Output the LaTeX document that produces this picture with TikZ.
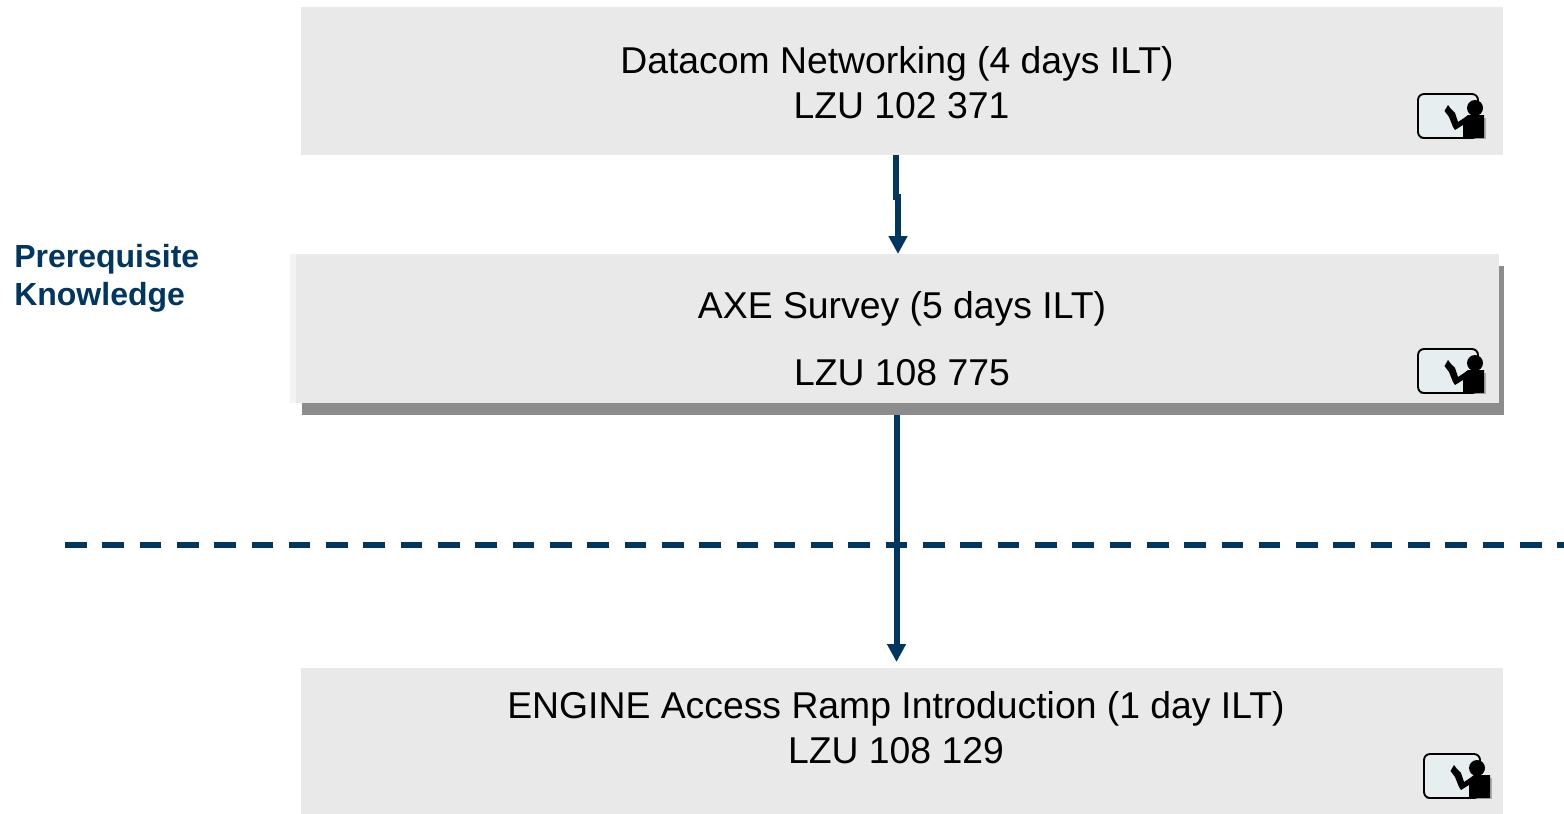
\documentclass[tikz,border=0pt]{standalone}
\usepackage{fontspec}
\setmainfont{Liberation Sans}
\usetikzlibrary{arrows.meta}
\definecolor{navy}{HTML}{003660}
\definecolor{boxgrey}{HTML}{E9E9E9}
\definecolor{boxlight}{HTML}{F3F3F3}
\definecolor{shadowgrey}{HTML}{8C8C8C}
\definecolor{screen}{HTML}{E6EEF0}
\tikzset{
  x=0.75pt,y=-0.75pt,
  box/.style={fill=boxgrey,draw=none,inner sep=0pt,outer sep=0pt},
  shadowbox/.style={fill=shadowgrey,draw=none,inner sep=0pt,outer sep=0pt},
  lightbox/.style={fill=boxlight,draw=none,inner sep=0pt,outer sep=0pt},
  course/.style={align=center,inner sep=0pt,text=black,font=\fontsize{28}{33.75}\selectfont},
  side/.style={align=left,inner sep=0pt,text=navy,font=\fontsize{24}{28.5}\selectfont\bfseries},
  link/.style={draw=navy,line width=4.5pt},
  linkarrow/.style={link,-{Triangle[length=13.5pt,width=13.5pt]}},
  divider/.style={draw=navy,line width=4.2pt,dash pattern=on 16.2pt off 11.78pt},
  pics/teacher/.style={code={
    \fill[shadowgrey!70] (2,43) rectangle (67.5,45);
    \fill[shadowgrey!70] (66,24) rectangle (67.5,45);
    \draw[black,line width=1.4pt,fill=screen,rounded corners=4.5pt] (0,0) rectangle (#1,44);
    \fill[black] ({#1-3},14) circle (8);
    \fill[black] (30,11) -- (33,15) -- (37,19) -- (40,28) -- (46,24) -- (50,21) -- (66,21)
      -- (66,44) -- (45,44) -- (45,31) -- (37,36) -- (35,33) -- (31,23) -- (26.5,17) -- cycle;
  }}
}
\begin{document}
\begin{tikzpicture}
\useasboundingbox (0,0) rectangle (1564,814);
\node[box,minimum width=901.5pt,minimum height=111pt] (b1) at (902,81) {};
\node[shadowbox,minimum width=901.5pt,minimum height=111.75pt] (b2s) at (903,340.5) {};
\node[lightbox,minimum width=906.75pt,minimum height=111.75pt] (b2l) at (894.5,328.5) {};
\node[box,minimum width=902.25pt,minimum height=111.75pt] (b2) at (897.5,328.5) {};
\node[box,minimum width=901.5pt,minimum height=109.5pt] (b3) at (902,740.5) {};
\node[course] (t1) at (897,83) {Datacom Networking (4 days ILT)\\\hspace*{6.75pt}LZU 102 371};
\node[course] (t2) at (902,339) {AXE Survey (5 days ILT)\\[16.5pt]LZU 108 775};
\node[course] (t3) at (896,728) {ENGINE Access Ramp Introduction (1 day ILT)\\LZU 108 129};
\node[side,anchor=west] (s) at (14,278) {Prerequisite\\Knowledge};
\coordinate (a1s) at (896,155);
\coordinate (a1m) at (896,200);
\coordinate (a1n) at (898,194);
\coordinate (a1e) at (898,254);
\coordinate (a2s) at (897,415);
\coordinate (a2m) at (897,540);
\coordinate (a2n) at (896.5,535);
\coordinate (a2e) at (896.5,662);
\coordinate (d1) at (65,545);
\coordinate (d2) at (1564,545);
\draw[link] (a1s) -- (a1m);
\draw[linkarrow] (a1n) -- (a1e);
\draw[divider] (d1) -- (d2);
\draw[link] (a2s) -- (a2m);
\draw[linkarrow] (a2n) -- (a2e);
\pic at (1418,94) {teacher=60};
\pic at (1418,349) {teacher=60};
\pic at (1424,754) {teacher=56};
\end{tikzpicture}
\end{document}
